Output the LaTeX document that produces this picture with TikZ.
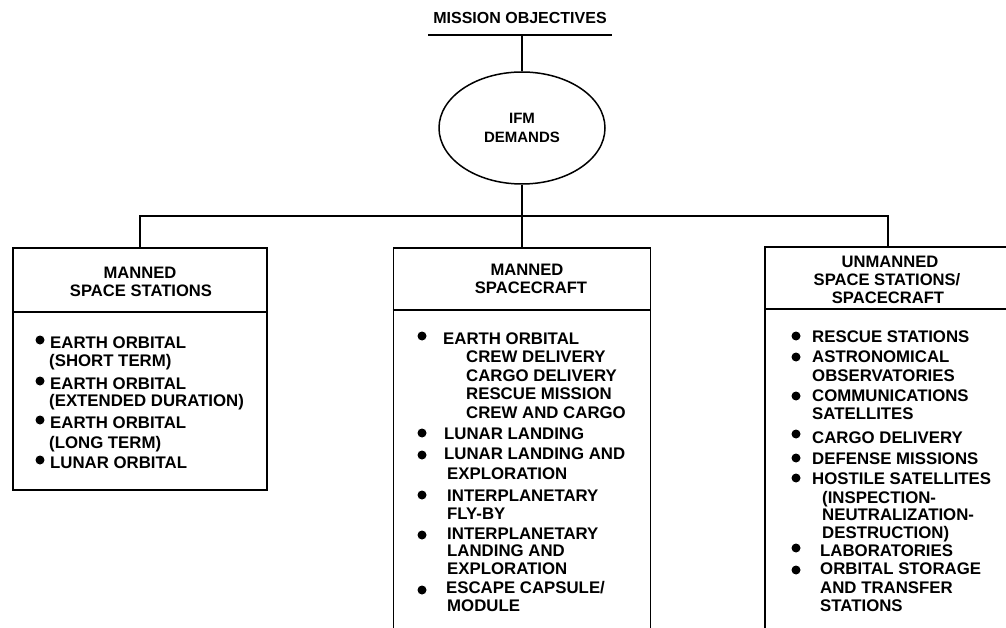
\documentclass[tikz,border=0pt]{standalone}
\usepackage{fontspec}
\setmainfont{Liberation Sans}
\usetikzlibrary{shapes.geometric}
\begin{document}
\begin{tikzpicture}[x=1pt,y=-1pt,
  frame/.style={draw,line width=1.6pt,rectangle,inner sep=0pt},
  wire/.style={line width=1.3pt},
  itemtext/.style={anchor=base west,inner sep=0pt,font=\bfseries\fontsize{16.8}{18}\selectfont},
  headtext/.style={anchor=base,inner sep=0pt,font=\bfseries\fontsize{16.6}{18}\selectfont},
  dot/.style={circle,fill,inner sep=0pt,minimum size=9pt}]
\useasboundingbox (0,0) rectangle (1006,628);
\clip (0,0) rectangle (1006,628);

% top of the tree
\node[headtext,font=\bfseries\fontsize{16}{18}\selectfont] (title) at (520,24) {MISSION OBJECTIVES};
\coordinate (uline) at (522,35);
\draw[wire] ([xshift=-94pt]uline) -- ([xshift=90pt]uline);
\node[ellipse,draw,line width=1.5pt,minimum width=166pt,minimum height=112pt,inner sep=0pt,
      align=center,font=\bfseries\fontsize{15}{19}\selectfont] (ifm) at (522,128) {IFM\\DEMANDS};
\draw[wire] (uline) -- (ifm.north);

% the three category boxes
\node[frame,minimum width=254pt,minimum height=242pt] (lb) at (140,369) {};
\node[frame,minimum width=257pt,minimum height=392pt] (mb) at (522,444) {};
\node[frame,minimum width=246pt,minimum height=393pt] (rb) at (888,443.5) {};
\draw[line width=1.6pt] (lb.west |- 0,312) -- (lb.east |- 0,312);
\draw[line width=1.6pt] (mb.west |- 0,310) -- (mb.east |- 0,310);
\draw[line width=1.6pt] (rb.west |- 0,309) -- (rb.east |- 0,309);

% branching connectors
\coordinate (bus) at (522,216);
\draw[wire] (ifm.south) -- (mb.north);
\draw[wire] (lb.north) |- (bus) -| (rb.north);

% headers
\node[headtext] (lh1) at (140,278) {MANNED};
\node[headtext] (lh2) at (141,296) {SPACE STATIONS};
\node[headtext] (mh1) at (527,276) {MANNED};
\node[headtext] (mh2) at (531,293) {SPACECRAFT};
\node[headtext] (rh1) at (890,268) {UNMANNED};
\node[headtext] (rh2) at (887,286) {SPACE STATIONS/};
\node[headtext] (rh3) at (888,303) {SPACECRAFT};

% left list
\foreach \x/\y/\t [count=\i] in {
  50/348/{EARTH ORBITAL}, 49/366/{(SHORT TERM)},
  50/389/{EARTH ORBITAL}, 49/406/{(EXTENDED DURATION)},
  50/428/{EARTH ORBITAL}, 49/448/{(LONG TERM)},
  50/468/{LUNAR ORBITAL}}
  \node[itemtext] (lt\i) at (\x,\y) {\t};
\foreach \y [count=\i] in {340,381,420,460}
  \node[dot] (ld\i) at (40,\y) {};

% middle list
\foreach \x/\y/\t [count=\i] in {
  443/344/{EARTH ORBITAL}, 466/362/{CREW DELIVERY}, 466/381/{CARGO DELIVERY},
  466/399/{RESCUE MISSION}, 466/418/{CREW AND CARGO},
  444/439/{LUNAR LANDING},
  444/459/{LUNAR LANDING AND}, 447/479/{EXPLORATION},
  447/501/{INTERPLANETARY}, 447/519/{FLY-BY},
  447/539/{INTERPLANETARY}, 447/556/{LANDING AND}, 447/574/{EXPLORATION},
  446/593/{ESCAPE CAPSULE/}, 447/611/{MODULE}}
  \node[itemtext] (mt\i) at (\x,\y) {\t};
\foreach \y [count=\i] in {336,433,455,495,535,590}
  \node[dot] (md\i) at (422,\y) {};

% right list
\foreach \x/\y/\t [count=\i] in {
  812/342/{RESCUE STATIONS},
  812/362/{ASTRONOMICAL}, 812/381/{OBSERVATORIES},
  812/401/{COMMUNICATIONS}, 812/419/{SATELLITES},
  812/443/{CARGO DELIVERY},
  812/464/{DEFENSE MISSIONS},
  812/484/{HOSTILE SATELLITES}, 822/503/{(INSPECTION-},
  822/520/{NEUTRALIZATION-}, 822/538/{DESTRUCTION)},
  820/556/{LABORATORIES},
  820/574/{ORBITAL STORAGE}, 820/593/{AND TRANSFER}, 820/611/{STATIONS}}
  \node[itemtext] (rt\i) at (\x,\y) {\t};
\foreach \y [count=\i] in {336,357,396,434,458,478,548,570}
  \node[dot] (rd\i) at (796,\y) {};
\end{tikzpicture}
\end{document}
